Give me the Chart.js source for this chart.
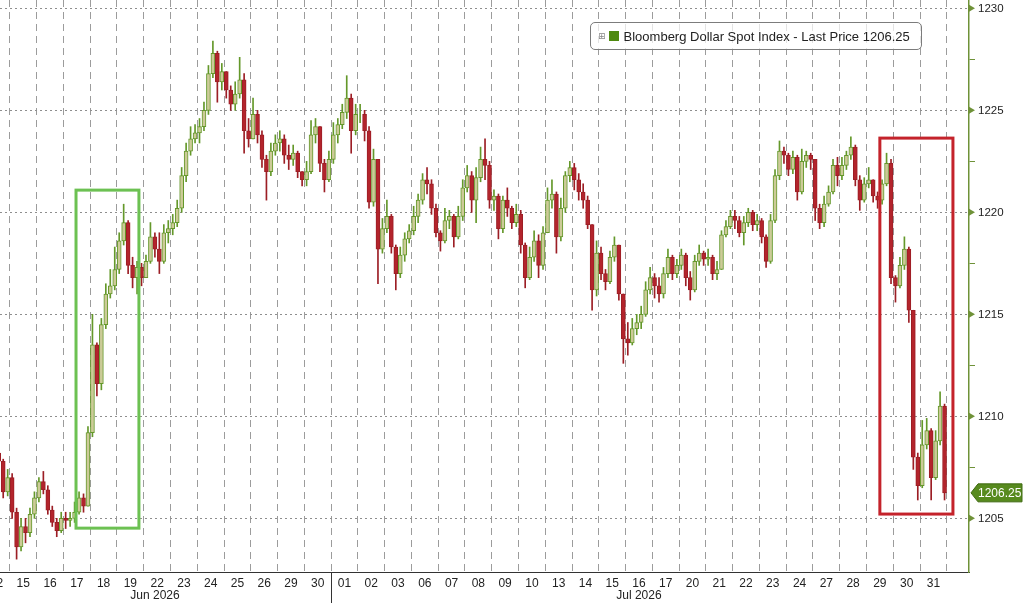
<!DOCTYPE html>
<html><head><meta charset="utf-8">
<script src="https://cdn.jsdelivr.net/npm/chart.js@4.4.1/dist/chart.umd.min.js"></script>
<style>
html,body{margin:0;padding:0;background:#fff;}
#wrap{position:relative;width:1024px;height:603px;}
#legend{position:absolute;left:590px;top:22px;width:332px;height:28px;box-sizing:border-box;border:1px solid #7c7c7c;border-radius:5px;background:rgba(255,255,255,0.72);font-family:"Liberation Sans",Arial,sans-serif;font-size:13px;color:#222;display:flex;align-items:center;padding-left:7px;white-space:nowrap;}
#legend .ico{font-family:"DejaVu Sans",sans-serif;font-size:9px;color:#888;margin-right:3px;}
#legend .sw{display:inline-block;width:10px;height:10px;background:#4f8a10;margin-right:5px;}
</style></head>
<body>
<div id="wrap"><canvas id="c" width="1024" height="603"></canvas>
<div id="legend"><span class="ico">⊞</span><span class="sw"></span><span>Bloomberg Dollar Spot Index - Last Price&nbsp;1206.25</span></div>
</div>
<script>
// ---- data ----
const dayLabels = ['12','15','16','17','18','19','22','23','24','25','26','29','30','01','02','03','06','07','08','09','10','13','14','15','16','17','20','21','22','23','24','27','28','29','30','31'];
const monthLabels = ['Jun 2026','Jul 2026'];
const monthLabelAt = [6.42, 24.5];
const monthBoundary = 13;
const yTicks = [1205,1207.5,1210,1212.5,1215,1217.5,1220,1222.5,1225,1227.5,1230];
const candlesPerDay = 6;
const firstOpen = 1207.2;
const lastPrice = 1206.25;
const closes = [
 1207.5,1208.0,1208.2,1207.8,1206.3,1207.0,
 1205.3,1203.6,1204.6,1204.3,1205.2,1206.0,
 1206.8,1206.4,1205.4,1204.8,1204.4,1205.0,
 1204.9,1205.0,1205.3,1206.0,1205.6,1209.2,
 1213.5,1211.6,1214.5,1216.0,1216.4,1217.2,
 1218.6,1219.5,1217.4,1216.8,1217.3,1216.8,
 1217.6,1218.8,1218.2,1217.6,1219.0,1219.2,
 1219.5,1220.2,1221.8,1223.0,1223.6,1223.9,
 1224.2,1225.0,1226.8,1227.8,1226.4,1226.9,
 1226.0,1225.3,1225.8,1226.5,1224.0,1223.6,
 1224.8,1223.8,1222.6,1222.0,1223.0,1223.4,
 1223.6,1222.8,1222.6,1222.9,1222.0,1221.6,
 1222.0,1223.8,1224.2,1222.4,1221.6,1222.6,
 1223.8,1224.3,1224.9,1225.6,1224.0,1224.8,
 1224.8,1224.0,1220.5,1222.6,1218.2,1219.2,
 1219.8,1218.3,1217.0,1217.9,1218.7,1219.1,
 1219.8,1220.6,1221.6,1221.4,1220.2,1219.0,
 1218.6,1219.6,1219.8,1218.8,1219.8,1221.2,
 1221.8,1220.6,1221.7,1222.6,1222.3,1220.6,
 1220.8,1219.2,1220.6,1220.2,1219.5,1219.9,
 1218.4,1216.8,1217.8,1218.6,1217.4,1219.0,
 1220.6,1220.9,1218.8,1220.2,1221.8,1222.2,
 1221.6,1221.0,1220.6,1219.4,1216.2,1218.0,
 1217.0,1216.6,1217.8,1218.4,1216.0,1213.8,
 1213.6,1214.3,1214.6,1215.0,1216.2,1216.8,
 1216.4,1216.0,1217.0,1217.8,1217.0,1217.4,
 1217.9,1216.8,1216.2,1217.6,1218.0,1217.7,
 1217.8,1217.0,1217.2,1218.9,1219.3,1219.8,
 1219.6,1219.0,1219.5,1220.0,1219.4,1219.6,
 1218.8,1217.6,1219.6,1221.8,1223.0,1222.8,
 1222.1,1222.7,1221.0,1222.5,1222.8,1222.6,
 1220.2,1219.5,1220.4,1221.0,1222.3,1221.8,
 1222.3,1222.8,1223.2,1221.6,1220.6,1221.4,
 1221.6,1220.8,1220.6,1221.4,1222.4,1216.8,
 1216.4,1217.4,1218.2,1215.2,1208.0,1206.6,
 1208.6,1209.3,1207.0,1208.8,1210.5,1206.25
];
const highs = [
 1207.8,1208.3,1208.5,1208.3,1207.9,1207.4,
 1207.2,1205.5,1205.0,1205.0,1205.5,1206.3,
 1207.0,1207.3,1206.6,1205.6,1205.0,1205.3,
 1205.3,1205.3,1205.8,1206.3,1206.2,1209.5,
 1215.0,1213.6,1214.8,1216.5,1217.2,1218.3,
 1219.0,1220.4,1219.6,1217.8,1217.6,1217.5,
 1217.9,1219.5,1219.0,1219.0,1219.4,1219.6,
 1219.9,1220.6,1222.2,1223.4,1224.2,1224.3,
 1224.6,1225.4,1227.2,1228.4,1227.9,1227.3,
 1226.9,1226.2,1226.4,1227.6,1226.8,1224.6,
 1225.6,1225.0,1224.0,1222.8,1223.4,1223.8,
 1224.0,1223.8,1223.3,1223.3,1223.0,1222.0,
 1222.5,1224.5,1224.6,1224.2,1222.6,1223.0,
 1224.4,1224.6,1225.3,1226.7,1225.8,1225.3,
 1225.3,1225.0,1224.2,1223.1,1222.6,1219.7,
 1220.6,1219.9,1218.4,1218.3,1219.0,1219.4,
 1220.3,1220.9,1221.9,1222.2,1221.6,1220.4,
 1219.1,1220.2,1220.1,1219.9,1220.3,1221.6,
 1222.3,1222.0,1222.2,1223.2,1223.6,1222.5,
 1221.1,1220.9,1220.8,1221.2,1220.3,1220.4,
 1220.1,1218.5,1218.3,1219.1,1218.9,1219.3,
 1221.2,1221.6,1221.0,1220.7,1222.0,1222.5,
 1222.4,1221.9,1221.4,1220.8,1217.0,1218.6,
 1218.3,1217.2,1218.1,1218.8,1218.4,1216.0,
 1214.6,1214.8,1215.0,1215.4,1216.6,1217.3,
 1217.0,1216.8,1217.3,1218.2,1217.9,1217.7,
 1218.2,1218.0,1217.1,1217.9,1218.4,1218.1,
 1218.2,1217.9,1217.6,1219.1,1219.6,1220.1,
 1220.1,1219.8,1219.8,1220.2,1220.1,1219.9,
 1219.7,1218.9,1219.9,1222.1,1223.5,1223.2,
 1222.9,1223.0,1222.8,1223.1,1223.0,1222.9,
 1221.0,1220.4,1220.8,1221.3,1222.6,1222.7,
 1222.7,1223.0,1223.7,1223.3,1221.8,1221.7,
 1222.2,1221.6,1221.0,1221.6,1222.9,1222.6,
 1216.9,1217.8,1218.8,1218.3,1215.2,1208.2,
 1209.8,1209.9,1209.4,1209.3,1211.2,1210.6
];
const lows = [
 1207.0,1207.4,1207.8,1207.5,1206.0,1206.1,
 1205.0,1203.0,1203.4,1203.8,1204.1,1205.0,
 1205.8,1206.2,1205.2,1204.6,1204.1,1204.3,
 1204.5,1204.6,1204.8,1205.2,1205.3,1205.6,
 1209.0,1211.0,1211.3,1214.3,1215.8,1216.2,
 1217.0,1218.4,1217.0,1216.3,1216.0,1216.4,
 1216.8,1217.5,1217.8,1217.0,1217.5,1218.5,
 1218.9,1219.3,1220.0,1221.5,1222.8,1223.4,
 1223.4,1224.0,1224.8,1226.6,1225.4,1226.0,
 1225.6,1225.0,1225.0,1225.6,1222.9,1223.2,
 1223.8,1223.4,1222.2,1220.6,1221.8,1222.8,
 1223.0,1222.4,1222.1,1222.3,1221.7,1221.3,
 1221.3,1221.9,1223.4,1222.0,1221.0,1221.5,
 1222.4,1223.4,1224.1,1224.6,1222.9,1223.8,
 1224.4,1223.5,1220.2,1220.3,1216.5,1218.0,
 1219.0,1218.0,1216.2,1216.8,1217.6,1218.5,
 1218.9,1219.5,1220.4,1220.9,1219.9,1218.8,
 1218.1,1218.5,1219.2,1218.3,1218.7,1219.6,
 1221.0,1220.0,1219.5,1221.5,1221.6,1220.2,
 1220.1,1218.7,1219.0,1219.8,1219.2,1219.3,
 1218.0,1216.3,1216.7,1217.6,1216.8,1217.2,
 1219.0,1220.2,1218.0,1218.6,1220.0,1221.5,
 1221.1,1220.6,1220.2,1219.2,1215.2,1215.9,
 1216.7,1216.2,1216.5,1217.6,1215.7,1212.6,
 1213.0,1213.5,1214.0,1214.3,1214.9,1216.0,
 1215.8,1215.6,1215.8,1216.8,1216.7,1216.8,
 1217.2,1216.4,1215.7,1216.1,1217.4,1217.4,
 1217.4,1216.7,1216.7,1217.2,1218.8,1219.2,
 1219.2,1218.8,1218.4,1219.3,1219.1,1219.1,
 1218.5,1217.3,1217.5,1219.5,1221.6,1222.4,
 1221.8,1221.9,1220.6,1220.9,1222.2,1222.1,
 1219.6,1219.2,1219.3,1220.3,1220.9,1221.3,
 1221.6,1222.1,1222.6,1221.3,1220.1,1220.5,
 1221.2,1220.5,1220.2,1220.4,1221.3,1216.5,
 1215.6,1216.3,1217.2,1214.6,1207.4,1205.9,
 1206.5,1208.4,1205.9,1206.9,1208.6,1205.9
];
const highlightBoxes = [
 {x0: 3.47, x1: 5.82, yTop: 1221.09, yBottom: 1204.52, color: '#6cc152'},
 {x0: 33.50, x1: 36.23, yTop: 1223.64, yBottom: 1205.21, color: '#c4232b'}
];

// ---- build candles ----
const X_MIN = 0.63, X_MAX = 36.83, Y_MIN = 1202.37, Y_MAX = 1230.41;
const UP_FILL = '#cccb98', UP_LINE = '#64982a', DN_FILL = '#b3242c', DN_LINE = '#9c1e25';
const bodies = [], wicks = [], bodyFill = [], bodyLine = [], wickCol = [];
closes.forEach((c, i) => {
  const o = i === 0 ? firstOpen : closes[i - 1];
  const xv = Math.floor(i / candlesPerDay) + ((i % candlesPerDay) + 0.5) / candlesPerDay;
  const up = c >= o;
  bodies.push({x: xv, y: [o, c]});
  wicks.push({x: xv, y: [Math.min(lows[i], o, c), Math.max(highs[i], o, c)]});
  bodyFill.push(up ? UP_FILL : DN_FILL);
  bodyLine.push(up ? UP_LINE : DN_LINE);
  wickCol.push(up ? UP_LINE : DN_LINE);
});

const FONT = '"Liberation Sans", Arial, sans-serif';
const AXIS_GREEN = '#6f9238';
const noPad = s => { s.paddingLeft = 0; s.paddingRight = 0; s.paddingTop = 0; s.paddingBottom = 0; };

const deco = {
  id: 'deco',
  afterDatasetsDraw(chart) {
    const {ctx, scales: {x, y}} = chart;
    ctx.save();
    highlightBoxes.forEach(b => {
      const x1 = x.getPixelForValue(b.x0), x2 = x.getPixelForValue(b.x1);
      const y1 = y.getPixelForValue(b.yTop), y2 = y.getPixelForValue(b.yBottom);
      ctx.strokeStyle = b.color; ctx.lineWidth = 3;
      ctx.strokeRect(x1, y1, x2 - x1, y2 - y1);
    });
    ctx.restore();
  },
  afterDraw(chart) {
    const {ctx, chartArea, scales: {x, y}} = chart;
    ctx.save();
    const mx = Math.round(x.getPixelForValue(monthBoundary)) + 0.5;
    ctx.strokeStyle = '#333'; ctx.lineWidth = 1;
    ctx.beginPath(); ctx.moveTo(mx, chartArea.bottom); ctx.lineTo(mx, chart.height); ctx.stroke();
    ctx.fillStyle = '#222'; ctx.font = '12px ' + FONT; ctx.textAlign = 'center'; ctx.textBaseline = 'middle';
    monthLabels.forEach((m, i) => ctx.fillText(m, x.getPixelForValue(monthLabelAt[i]), 596));
    ctx.fillStyle = AXIS_GREEN;
    yTicks.forEach(v => {
      if (v % 5 !== 0) return;
      const py = y.getPixelForValue(v);
      const ax = chartArea.right;
      ctx.beginPath(); ctx.moveTo(ax, py - 3.5); ctx.lineTo(ax + 6, py); ctx.lineTo(ax, py + 3.5); ctx.closePath(); ctx.fill();
    });
    const ty = y.getPixelForValue(lastPrice);
    const ax = chartArea.right + 2;
    ctx.fillStyle = '#578a1e'; ctx.strokeStyle = '#3f6a12'; ctx.lineWidth = 1;
    ctx.beginPath();
    ctx.moveTo(ax, ty); ctx.lineTo(ax + 7, ty - 9); ctx.lineTo(1022, ty - 9); ctx.lineTo(1022, ty + 9); ctx.lineTo(ax + 7, ty + 9); ctx.closePath();
    ctx.fill(); ctx.stroke();
    ctx.fillStyle = '#fff'; ctx.font = '12px ' + FONT; ctx.textAlign = 'left'; ctx.textBaseline = 'middle';
    ctx.fillText(lastPrice.toFixed(2), ax + 7, ty + 0.5);
    ctx.restore();
  }
};

new Chart(document.getElementById('c'), {
  type: 'bar',
  data: {
    datasets: [
      {data: bodies, backgroundColor: bodyFill, borderColor: bodyLine, borderWidth: 1, borderSkipped: false, barThickness: 4, grouped: false, order: 0},
      {data: wicks, backgroundColor: wickCol, borderWidth: 0, barThickness: 1, grouped: false, order: 1}
    ]
  },
  options: {
    responsive: false, animation: false,
    layout: {padding: 0, autoPadding: false},
    plugins: {legend: {display: false}, tooltip: {enabled: false}},
    scales: {
      x: {
        type: 'linear', min: X_MIN, max: X_MAX, offset: false,
        afterBuildTicks: s => { s.ticks = dayLabels.map((_, i) => ({value: i + 0.5})); },
        afterFit: s => { s.height = 31; noPad(s); },
        ticks: {autoSkip: false, maxRotation: 0, minRotation: 0, padding: 4, color: '#222', font: {family: FONT, size: 12},
          callback: (v, i) => dayLabels[i]},
        grid: {offset: true, color: '#9c9c9c', lineWidth: 1, drawTicks: false, borderDash: [7, 5]},
        border: {display: true, color: '#333', width: 1, dash: [7, 5]}
      },
      y: {
        position: 'right', min: Y_MIN, max: Y_MAX,
        afterBuildTicks: s => { s.ticks = yTicks.map(v => ({value: v})); },
        afterFit: s => { s.width = 55; noPad(s); },
        ticks: {padding: 3, color: '#222', font: {family: FONT, size: 11.5},
          callback: v => (v % 5 === 0 ? String(v) : '')},
        grid: {
          color: c => (c.tick && c.tick.value % 5 === 0) ? '#8e8e8e' : 'rgba(0,0,0,0)',
          tickColor: c => (c.tick && c.tick.value % 5 === 0) ? 'rgba(0,0,0,0)' : AXIS_GREEN,
          lineWidth: 1, drawTicks: true, tickLength: 6, borderDash: [2, 3]
        },
        border: {display: true, color: AXIS_GREEN, width: 1.5, dash: [2, 3]}
      }
    }
  },
  plugins: [deco]
});
</script>
</body></html>
